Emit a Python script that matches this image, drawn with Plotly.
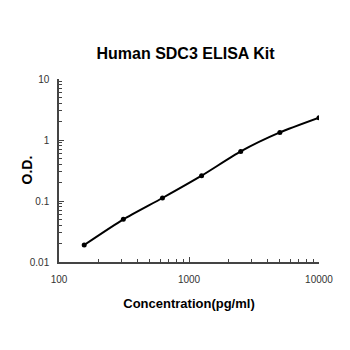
import plotly.graph_objects as go

concentration = [156.25, 312.5, 625, 1250, 2500, 5000, 10000]
od = [0.019, 0.05, 0.112, 0.26, 0.65, 1.33, 2.32]

fig = go.Figure()
fig.add_trace(go.Scatter(
    x=concentration, y=od, mode="lines+markers",
    line=dict(color="black", width=2, shape="spline", smoothing=0.6),
    marker=dict(color="black", size=5),
    showlegend=False,
))

fig.update_layout(
    width=350, height=350,
    margin=dict(l=59, r=31, t=79, b=88),
    paper_bgcolor="white", plot_bgcolor="white",
    title=dict(text="<b>Human SDC3 ELISA Kit</b>", x=0.53, xanchor="center",
               y=1 - 53 / 350, yanchor="middle",
               font=dict(family="Liberation Sans, Arial", size=16, color="black")),
    font=dict(family="Liberation Sans, Arial", color="#222"),
)
fig.add_annotation(
    text="<b>O.D.</b>", textangle=-90, xref="paper", yref="paper",
    x=(26 - 59) / 260, y=0.5, xanchor="center", yanchor="middle", showarrow=False,
    font=dict(family="Liberation Sans, Arial", size=14, color="black"),
)
fig.update_xaxes(
    type="log", range=[2, 4],
    tickvals=[100, 1000, 10000], ticktext=["100", "1000", "10000"],
    ticks="inside", ticklen=5, tickcolor="#444", tickfont=dict(size=10, color="#333"),
    ticklabelstandoff=7,
    minor=dict(ticks="inside", ticklen=3, tickcolor="#444", dtick="D1", showgrid=False),
    showline=True, linecolor="#444", linewidth=1.5, showgrid=False, zeroline=False,
    title=dict(text="<b>Concentration(pg/ml)</b>", font=dict(size=13, color="black"), standoff=15),
)
fig.update_yaxes(
    type="log", range=[-2, 1],
    tickvals=[0.01, 0.1, 1, 10], ticktext=["0.01", "0.1", "1", "10"],
    ticks="inside", ticklen=5, tickcolor="#444", tickfont=dict(size=10, color="#333"),
    ticklabelstandoff=6,
    minor=dict(ticks="inside", ticklen=3, tickcolor="#444", dtick="D1", showgrid=False),
    showline=True, linecolor="#444", linewidth=1.5, showgrid=False, zeroline=False,
)

fig.write_html("out.html")
